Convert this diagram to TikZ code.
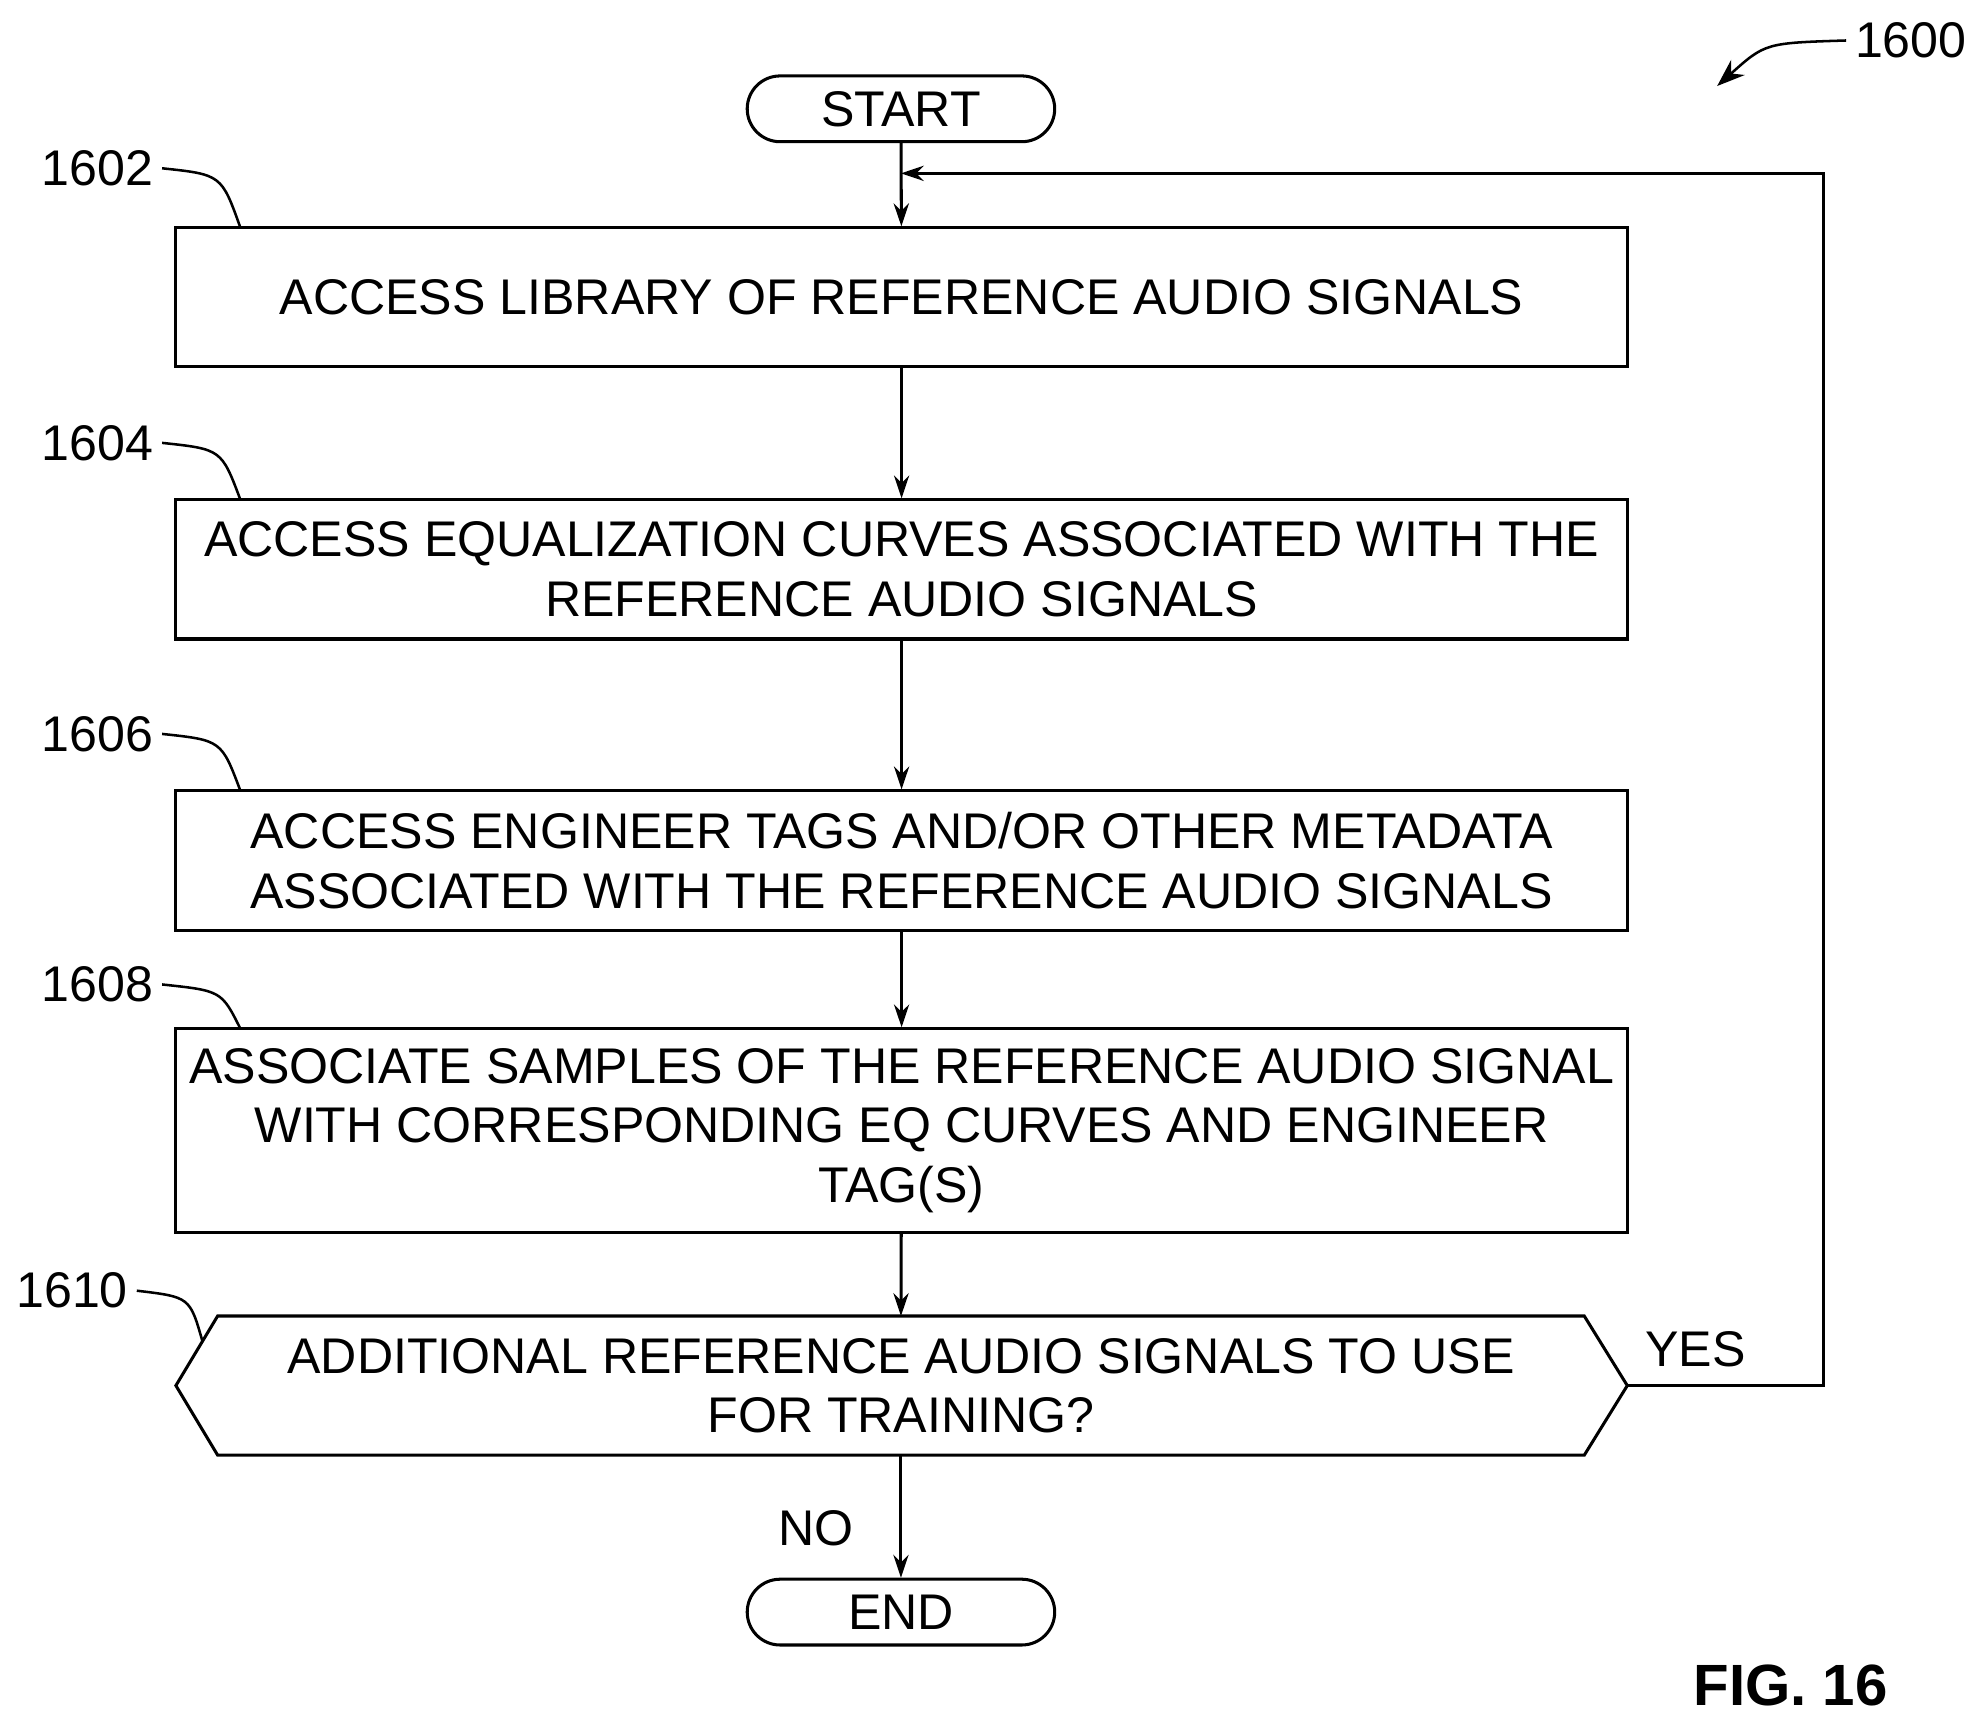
\documentclass[tikz,border=0pt]{standalone}
\usepackage{fontspec}
\setmainfont{Liberation Sans}
\usetikzlibrary{arrows.meta}
\begin{document}
\begin{tikzpicture}[x=0.5pt,y=-0.5pt,
  every node/.style={font=\fontsize{19.8}{23.5}\selectfont},
  box/.style={draw,line width=1.2pt,minimum width=573.5pt,inner sep=0pt,align=center},
  term/.style={draw,line width=1.2pt,rounded corners=13pt,minimum width=121.5pt,minimum height=26pt,inner sep=0pt},
  arr/.style={-{Stealth[length=9pt,width=6pt]},line width=1.2pt},
  lead/.style={line width=1pt}]
\useasboundingbox (0,0) rectangle (1560,1358);
\node[term] (start) at (712,86) {START};
\node[box,minimum height=55pt] (b1) at (712.5,235) {ACCESS LIBRARY OF REFERENCE AUDIO SIGNALS};
\node[box,minimum height=55pt] (b2) at (712.5,450) {ACCESS EQUALIZATION CURVES ASSOCIATED WITH THE\\REFERENCE AUDIO SIGNALS};
\node[box,minimum height=55pt] (b3) at (712.5,680) {ACCESS ENGINEER TAGS AND/OR OTHER METADATA\\ASSOCIATED WITH THE REFERENCE AUDIO SIGNALS};
\node[box,minimum height=80.5pt] (b4) at (712.5,893.5) {ASSOCIATE SAMPLES OF THE REFERENCE AUDIO SIGNAL\\WITH CORRESPONDING EQ CURVES AND ENGINEER\\TAG(S)};
\draw[line width=1.2pt] (139,1095) coordinate (hl) -- (172,1040) -- (1252,1040) -- (1286,1095) coordinate (hr) -- (1252,1150) -- (172,1150) -- cycle;
\node[align=center] (d) at (712,1095) {ADDITIONAL REFERENCE AUDIO SIGNALS TO USE\\FOR TRAINING?};
\coordinate (dtop) at (712,1040);
\coordinate (dbot) at (712,1150);
\coordinate (dleft) at (160,1060);
\node[term] (end) at (712,1274) {END};
\draw[arr] (start) -- (b1);
\draw[arr] (b1) -- (b2);
\draw[arr] (b2) -- (b3);
\draw[arr] (b3) -- (b4);
\draw[arr] (b4) -- (dtop);
\draw[arr] (dbot) -- (end);
\coordinate (j) at (712,137);
\draw[arr] (hr) -- (1441,1095) -- (1441,137) -- (j);
\node (yes) at (1340,1066) {YES};
\node (no) at (645,1208) {NO};
\node (l1602) at (77,133) {1602};
\node (l1604) at (77,350) {1604};
\node (l1606) at (77,580) {1606};
\node (l1608) at (77,778) {1608};
\node (l1610) at (57,1020) {1610};
\draw[lead] (l1602.east) .. controls (175,138) .. (190,180);
\draw[lead] (l1604.east) .. controls (175,355) .. (190,395);
\draw[lead] (l1606.east) .. controls (175,585) .. (190,625);
\draw[lead] (l1608.east) .. controls (175,783) .. (190,813);
\draw[lead] (l1610.east) .. controls (150,1025) .. (dleft);
\node (l1600) at (1510,32) {1600};
\draw[lead,-{Stealth[length=11pt,width=8pt]}] (l1600.west) .. controls (1395,34) .. (1357,68);
\node[font=\fontsize{23}{27}\selectfont\bfseries] (fig) at (1415,1332) {FIG. 16};
\end{tikzpicture}
\end{document}
